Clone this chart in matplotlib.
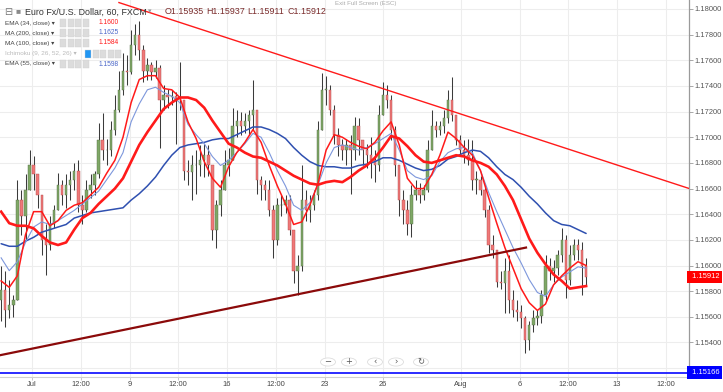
import numpy as np
import matplotlib
matplotlib.use("Agg")
import matplotlib.pyplot as plt
from matplotlib.patches import Rectangle, Circle
import matplotlib.transforms as mtransforms

W, H, DPI = 723, 392, 100
FAM = ["Liberation Sans", "DejaVu Sans"]

# ---------------- data ----------------
# hourly trading time (weekends removed), hours relative to Mon 2 Jul 2018 00:00
candle_start_hour = -38
candle_step = 5
open0 = 1.1573
highs = [1.1600,1.1596,1.1589,1.1577,1.1667,1.1659,1.1671,1.1690,1.1685,1.1671,
         1.1655,1.1632,1.1639,1.1647,1.1672,1.1667,1.1671,1.1674,1.1680,1.1682,
         1.1655,1.1667,1.1671,1.1674,1.1711,1.1719,1.1699,1.1713,1.1733,1.1752,
         1.1766,1.1764,1.1784,1.1788,1.1791,1.1772,1.1762,1.1759,1.1760,1.1756,
         1.1741,1.1738,1.1737,1.1735,1.1759,1.1729,1.1682,1.1686,1.1690,1.1694,
         1.1695,1.1694,1.1678,1.1651,1.1667,1.1690,1.1692,1.1723,1.1721,1.1720,
         1.1719,1.1721,1.1745,1.1717,1.1670,1.1667,1.1667,1.1647,1.1653,1.1655,
         1.1655,1.1655,1.1628,1.1608,1.1678,1.1659,1.1655,1.1659,1.1713,1.1750,
         1.1748,1.1741,1.1725,1.1707,1.1699,1.1699,1.1702,1.1716,1.1715,1.1698,
         1.1695,1.1700,1.1690,1.1725,1.1743,1.1741,1.1733,1.1709,1.1678,1.1659,
         1.1651,1.1663,1.1667,1.1664,1.1663,1.1698,1.1721,1.1713,1.1713,1.1721,
         1.1737,1.1747,1.1717,1.1702,1.1698,1.1699,1.1698,1.1674,1.1670,1.1663,
         1.1647,1.1624,1.1612,1.1596,1.1606,1.1608,1.1581,1.1573,1.1569,1.1561,
         1.1557,1.1565,1.1565,1.1581,1.1608,1.1606,1.1604,1.1612,1.1629,1.1624,
         1.1616,1.1621,1.1621,1.1618,1.1606]
lows = [1.1557,1.1552,1.1559,1.1560,1.1573,1.1624,1.1620,1.1663,1.1659,1.1645,
        1.1608,1.1593,1.1612,1.1629,1.1643,1.1647,1.1645,1.1651,1.1659,1.1642,
        1.1632,1.1642,1.1653,1.1655,1.1668,1.1682,1.1678,1.1685,1.1702,1.1720,
        1.1733,1.1741,1.1749,1.1764,1.1760,1.1743,1.1745,1.1745,1.1746,1.1692,
        1.1721,1.1723,1.1725,1.1695,1.1721,1.1667,1.1663,1.1651,1.1656,1.1670,
        1.1669,1.1670,1.1620,1.1614,1.1639,1.1663,1.1670,1.1690,1.1700,1.1702,
        1.1703,1.1702,1.1706,1.1656,1.1651,1.1651,1.1639,1.1606,1.1616,1.1639,
        1.1641,1.1624,1.1586,1.1577,1.1596,1.1635,1.1634,1.1643,1.1651,1.1706,
        1.1725,1.1717,1.1695,1.1685,1.1682,1.1678,1.1656,1.1682,1.1686,1.1678,
        1.1676,1.1668,1.1665,1.1674,1.1717,1.1723,1.1698,1.1670,1.1639,1.1632,
        1.1624,1.1622,1.1651,1.1649,1.1651,1.1657,1.1690,1.1700,1.1702,1.1703,
        1.1711,1.1713,1.1694,1.1686,1.1680,1.1678,1.1659,1.1656,1.1655,1.1638,
        1.1610,1.1606,1.1583,1.1582,1.1563,1.1563,1.1560,1.1557,1.1551,1.1532,
        1.1534,1.1548,1.1554,1.1555,1.1573,1.1589,1.1587,1.1593,1.1603,1.1575,
        1.1585,1.1604,1.1604,1.1577,1.1585]
closes = [1.1581,1.1565,1.1569,1.1573,1.1651,1.1639,1.1659,1.1678,1.1671,1.1655,
          1.1620,1.1616,1.1632,1.1643,1.1663,1.1655,1.1663,1.1667,1.1674,1.1647,
          1.1643,1.1659,1.1663,1.1671,1.1698,1.1690,1.1690,1.1706,1.1721,1.1737,
          1.1752,1.1751,1.1772,1.1780,1.1768,1.1752,1.1756,1.1751,1.1754,1.1729,
          1.1733,1.1731,1.1732,1.1729,1.1729,1.1674,1.1673,1.1678,1.1678,1.1682,
          1.1686,1.1678,1.1628,1.1647,1.1659,1.1678,1.1682,1.1709,1.1713,1.1709,
          1.1713,1.1717,1.1721,1.1667,1.1663,1.1659,1.1643,1.1620,1.1647,1.1647,
          1.1651,1.1628,1.1596,1.1600,1.1651,1.1643,1.1647,1.1655,1.1706,1.1737,
          1.1737,1.1721,1.1702,1.1694,1.1690,1.1694,1.1690,1.1709,1.1698,1.1690,
          1.1686,1.1682,1.1678,1.1717,1.1733,1.1729,1.1706,1.1678,1.1651,1.1643,
          1.1632,1.1655,1.1659,1.1655,1.1659,1.1690,1.1709,1.1706,1.1709,1.1715,
          1.1729,1.1717,1.1698,1.1690,1.1686,1.1682,1.1667,1.1667,1.1659,1.1643,
          1.1616,1.1612,1.1587,1.1586,1.1596,1.1573,1.1565,1.1564,1.1559,1.1542,
          1.1554,1.1559,1.1561,1.1577,1.1600,1.1596,1.1598,1.1608,1.1620,1.1589,
          1.1608,1.1616,1.1612,1.1600,1.15912]

ma_start_hour = -38
ma_step = 10
ema34 = [1.1588,1.1583,1.1592,1.1624,1.1642,1.1642,1.1631,1.1635,1.1643,1.1647,
         1.1649,1.1655,1.1661,1.1672,1.1682,1.1700,1.1727,1.1745,1.1748,1.1748,
         1.1738,1.1737,1.1731,1.1712,1.1699,1.1681,1.1668,1.1661,1.1677,1.1688,
         1.1696,1.1706,1.1696,1.1678,1.1662,1.1648,1.1632,1.1634,1.1647,1.1664,
         1.1690,1.1702,1.1700,1.1696,1.1693,1.1691,1.1696,1.1705,1.1712,1.1694,
         1.1668,1.1660,1.1660,1.1671,1.1686,1.1704,1.1699,1.1692,1.1686,1.1674,
         1.1653,1.1633,1.1614,1.1598,1.1582,1.1571,1.1565,1.1570,1.1585,1.1592,
         1.1598,1.1603,1.1600]
ema55 = [1.1606,1.1596,1.1603,1.1618,1.1630,1.1634,1.1632,1.1635,1.1639,1.1643,
         1.1648,1.1653,1.1658,1.1667,1.1676,1.1688,1.1712,1.1726,1.1737,1.1739,
         1.1735,1.1732,1.1727,1.1710,1.1702,1.1695,1.1685,1.1678,1.1682,1.1688,
         1.1695,1.1703,1.1700,1.1688,1.1674,1.1662,1.1647,1.1643,1.1649,1.1663,
         1.1680,1.1692,1.1694,1.1692,1.1690,1.1692,1.1695,1.1699,1.1703,1.1690,
         1.1674,1.1669,1.1667,1.1670,1.1681,1.1688,1.1691,1.1692,1.1688,1.1674,
         1.1657,1.1642,1.1628,1.1614,1.1602,1.1589,1.1579,1.1576,1.1585,1.1591,
         1.1595,1.1599,1.1598]
ma100 = [1.1642,1.1633,1.1631,1.1631,1.1629,1.1623,1.1618,1.1616,1.1618,1.1628,
         1.1637,1.1641,1.1648,1.1654,1.1660,1.1668,1.1681,1.1694,1.1704,1.1713,
         1.1722,1.1727,1.1731,1.1731,1.1729,1.1723,1.1713,1.1704,1.1695,1.1692,
         1.1688,1.1685,1.1684,1.1681,1.1678,1.1674,1.1670,1.1667,1.1664,1.1663,
         1.1665,1.1666,1.1665,1.1669,1.1674,1.1678,1.1684,1.1692,1.1701,1.1699,
         1.1693,1.1686,1.1681,1.1680,1.1682,1.1684,1.1686,1.1685,1.1682,1.1680,
         1.1677,1.1671,1.1662,1.1651,1.1636,1.1621,1.1610,1.1601,1.1593,1.1588,
         1.1582,1.1583,1.1584]
ma200 = [1.1617,1.1615,1.1615,1.1619,1.1622,1.1626,1.1628,1.1630,1.1632,1.1637,
         1.1639,1.1641,1.1642,1.1643,1.1644,1.1645,1.1651,1.1656,1.1662,1.1669,
         1.1678,1.1686,1.1692,1.1694,1.1695,1.1696,1.1698,1.1699,1.1699,1.1702,
         1.1705,1.1708,1.1708,1.1706,1.1703,1.1699,1.1692,1.1686,1.1681,1.1678,
         1.1677,1.1677,1.1676,1.1676,1.1678,1.1679,1.1681,1.1684,1.1684,1.1682,
         1.1679,1.1676,1.1674,1.1675,1.1678,1.1683,1.1685,1.1688,1.1690,1.1689,
         1.1684,1.1677,1.1671,1.1667,1.1661,1.1654,1.1648,1.1641,1.1635,1.1632,
         1.1631,1.1628,1.1625]

resist_hours = [107, 809]
resist_prices = [1.1805, 1.1660]
support_hours = [-40, 608]
support_prices = [1.1530, 1.1614]
ref_level = 1.15166
last_price = 1.15912

tick_labels = ["Jul", "12:00", "9", "12:00", "16", "12:00", "23", "26",
               "Aug", "6", "12:00", "13", "12:00"]
tick_dates = ["2018-07-02", "2018-07-04", "2018-07-09", "2018-07-11",
              "2018-07-16", "2018-07-18", "2018-07-23", "2018-07-26",
              "2018-08-01", "2018-08-06", "2018-08-08", "2018-08-13",
              "2018-08-15"]
tick_hour_of_day = [0, 12, 0, 12, 0, 12, 0, 0, 0, 0, 12, 0, 12]

legend_names = ["EMA (34, close)", "MA (200, close)", "MA (100, close)",
                "Ichimoku (9, 26, 52, 26)", "EMA (55, close)"]
legend_values = ["1.1600", "1.1625", "1.1584", "", "1.1598"]
title_text = "Euro Fx/U.S. Dollar, 60, FXCM"
ohlc_text = ["O1.15935", "H1.15937", "L1.15911", "C1.15912"]

# ---------------- styles ----------------
RED = "#ff1a1a"
DKBLUE = "#2f50b0"
LTBLUE = "#7d97dc"
DKRED = "#8b0a0a"

fig = plt.figure(figsize=(W / DPI, H / DPI), dpi=DPI)
fig.patch.set_facecolor("white")
plot_right, plot_bottom = 689, 377
ax = fig.add_axes([0, (H - plot_bottom) / H, plot_right / W, plot_bottom / H])

def trading_hour(day, hour):
    return np.busday_count("2018-07-02", day) * 24 + hour

tick_pos = [trading_hour(d, h) for d, h in zip(tick_dates, tick_hour_of_day)]

x0 = (0 - 32) / 0.8125
x1 = (plot_right - 32) / 0.8125
ax.set_xlim(x0, x1)
ax.set_ylim(1.15131, 1.18070)

# grid
ax.set_axisbelow(True)
ax.set_xticks(tick_pos)
ax.set_xticklabels(tick_labels)
yt = np.round(np.arange(1.152, 1.1801, 0.002), 3)
ax.set_yticks(yt)
# the lowest tick label is hidden behind the 1.15166 marker in the reference
ax.set_yticklabels(["" if v < 1.1525 else f"{v:.5f}" for v in yt])
ax.grid(True, color="#ededed", lw=0.8)

# candles
highs_a = np.array(highs); lows_a = np.array(lows); closes_a = np.array(closes)
opens_a = np.concatenate([[open0], closes_a[:-1]])
xc = candle_start_hour + candle_step * np.arange(len(closes_a))
up = closes_a >= opens_a
top = np.maximum(highs_a, np.maximum(opens_a, closes_a))
bot = np.minimum(lows_a, np.minimum(opens_a, closes_a))
ax.vlines(xc, bot, top, color="#3b3b3b", lw=0.75, zorder=2)
body_h = np.where(np.abs(closes_a - opens_a) < 0.00004, 0.00004, np.abs(closes_a - opens_a))
body_b = np.minimum(opens_a, closes_a)
ax.bar(xc[up], body_h[up], bottom=body_b[up], width=3.0, color="#7fa866",
       edgecolor="#556b45", lw=0.3, zorder=3)
ax.bar(xc[~up], body_h[~up], bottom=body_b[~up], width=3.0, color="#f07878",
       edgecolor="#b04a4a", lw=0.3, zorder=3)

# moving averages
xm = ma_start_hour + ma_step * np.arange(len(ma200))
ax.plot(xm, ma200, color=DKBLUE, lw=1.1, zorder=4, solid_capstyle="round")
ax.plot(xm, ema55, color=LTBLUE, lw=0.8, zorder=4)
ax.plot(xm, ma100, color=RED, lw=1.9, zorder=5, solid_joinstyle="round")
ax.plot(xm, ema34, color=RED, lw=1.1, zorder=5, solid_joinstyle="round")

# trend lines
ax.plot(resist_hours, resist_prices, color=RED, lw=1.0, zorder=6)
ax.plot(support_hours, support_prices, color=DKRED, lw=1.6, zorder=6)
ax.axhline(ref_level, color="#1a1aff", lw=1.3, zorder=6)

# axes styling
for s in ["top", "left"]:
    ax.spines[s].set_visible(False)
ax.spines["right"].set_color("#9a9a9a")
ax.spines["right"].set_linewidth(0.9)
ax.spines["bottom"].set_color("#d0d0d0")
ax.spines["bottom"].set_linewidth(0.8)
ax.yaxis.tick_right()
ax.tick_params(axis="y", length=3, width=0.6, color="#9a9a9a", labelsize=5.4,
               labelcolor="#555555", pad=1.2)
ax.tick_params(axis="x", length=2, width=0.6, color="#bbbbbb", labelsize=5.4,
               labelcolor="#444444", pad=0.8)
for lab in ax.get_yticklabels() + ax.get_xticklabels():
    lab.set_fontfamily(FAM)

# price labels on axis
blend = mtransforms.blended_transform_factory(ax.transAxes, ax.transData)
ax.text(1.0015, last_price, " " + f"{last_price:.5f}", transform=blend, ha="left",
        va="center", fontsize=5.4, color="white", family=FAM,
        bbox=dict(boxstyle="square,pad=0.35", fc="#ff0000", ec="none"),
        zorder=10, clip_on=False)
ax.text(1.0015, ref_level, " " + f"{ref_level:.5f}", transform=blend, ha="left",
        va="center", fontsize=5.4, color="white", family=FAM,
        bbox=dict(boxstyle="square,pad=0.35", fc="#0000ff", ec="none"),
        zorder=10, clip_on=False)

# ---------------- legend / overlay ----------------
def P(x, y):
    return (x / W, 1 - y / H)

fig.text(*P(4, 12), "⊟", fontsize=7, color="#777777", va="center", family=FAM)
fig.text(*P(15, 12), "■", fontsize=6, color="#8a8a8a", va="center", family=FAM)
fig.text(*P(25, 12), title_text, fontsize=6.4, color="#333333", va="center",
         family=FAM)
fig.text(*P(148, 12), "▾", fontsize=5, color="#999999", va="center", family=FAM)
for txt, xx in zip(ohlc_text, [165, 206, 247, 288]):
    fig.text(*P(xx, 12), txt, fontsize=6.4, color="#7a2c2c", va="center",
             family=FAM)

rows_y = [23, 33, 43, 54, 64]
val_colors = [RED, "#4a66c8", RED, "#bbbbbb", "#4a66c8"]
for k, (name, val, ry, vc) in enumerate(zip(legend_names, legend_values, rows_y, val_colors)):
    ich = (k == 3)
    fig.text(*P(5, ry), name + " ▾", fontsize=4.6,
             color="#bbbbbb" if ich else "#444444", va="center", family=FAM)
    icon_x = [85, 93, 100, 108, 115] if ich else [60, 67.5, 75, 82.5]
    for j, ix in enumerate(icon_x):
        fc = "#2196f3" if (ich and j == 0) else "#dcdcdc"
        fig.patches.append(Rectangle((ix / W, 1 - (ry + 3.5) / H), 6 / W, 7 / H,
                                     transform=fig.transFigure, fc=fc, ec="#cfcfcf",
                                     lw=0.3, zorder=5))
    if val:
        fig.text(*P(99, ry), val, fontsize=4.8, color=vc, va="center", family=FAM)

fig.text(*P(335, 3), "Exit Full Screen (ESC)", fontsize=4.4, color="#aaaaaa",
         va="center", family=FAM)

for bx, sym in zip([328, 349, 375, 396, 421], ["−", "+", "‹", "›", "↻"]):
    fig.patches.append(Circle((bx / W, 1 - 362 / H), 7.5 / W, transform=fig.transFigure,
                              fc="white", ec="#dddddd", lw=0.6, zorder=8))
    fig.text(*P(bx, 362), sym, fontsize=6, color="#555555", ha="center",
             va="center", zorder=9, family=["DejaVu Sans"])

fig.savefig("out.png", dpi=DPI)
